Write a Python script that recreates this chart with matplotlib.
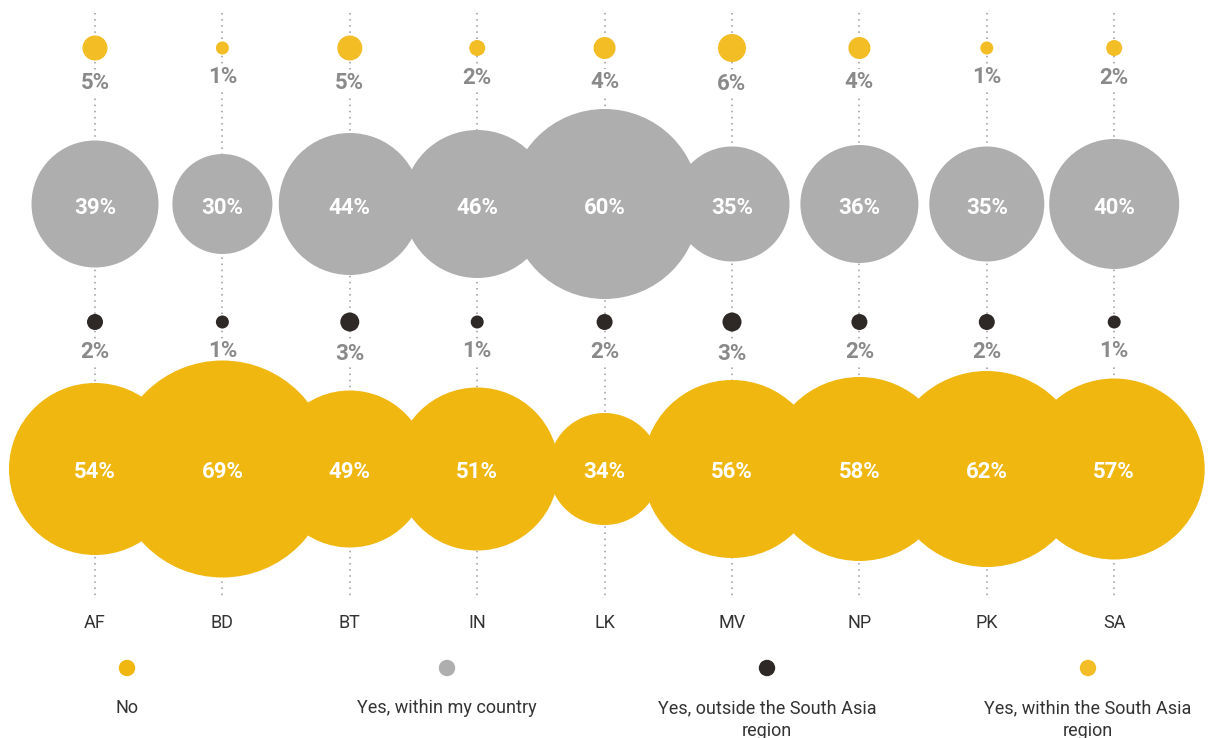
import matplotlib.pyplot as plt
from matplotlib.patches import Circle

# Share of respondents per country, by answer
countries = ['AF', 'BD', 'BT', 'IN', 'LK', 'MV', 'NP', 'PK', 'SA']
within_region = [5, 1, 5, 2, 4, 6, 4, 1, 2]
within_country = [39, 30, 44, 46, 60, 35, 36, 35, 40]
outside_region = [2, 1, 3, 1, 2, 3, 2, 2, 1]
no_answer = [54, 69, 49, 51, 34, 56, 58, 62, 57]

legend_labels = ['No', 'Yes, within my country',
                 'Yes, outside the South Asia\nregion',
                 'Yes, within the South Asia\nregion']

YELLOW = '#EFB70F'
LIGHT_YELLOW = '#F2BD25'
GREY = '#ADAEAD'
DARK = '#2E2926'
LABEL_GREY = '#8A8A8A'
TEXT = '#333333'

plt.rcParams['font.family'] = ['Roboto', 'DejaVu Sans']

fig = plt.figure(figsize=(12.09, 7.38), dpi=100)
ax = fig.add_axes([0, 0, 1, 1])
ax.set_xlim(0, 1209)
ax.set_ylim(738, 0)
ax.axis('off')

x0, dx = 95, 127.4
xs = [x0 + i * dx for i in range(len(countries))]


def radius(v):
    # diameter grows linearly with the percentage, with a small floor
    return (10 + 3.0 * v) / 2


# rows: values, y centre, colour, label inside circle?
rows = [
    (within_region, 48, LIGHT_YELLOW, False),
    (within_country, 204, GREY, True),
    (outside_region, 322, DARK, False),
    (no_answer, 469, YELLOW, True),
]

for x in xs:
    ax.plot([x, x], [13, 599], color='#9A9A9A', lw=1.1,
            linestyle=(0, (1, 3)), zorder=1)

for values, cy, color, inside in rows:
    for x, v in zip(xs, values):
        r = radius(v)
        ax.add_patch(Circle((x, cy), r, facecolor=color, edgecolor='none', zorder=2))
        if inside:
            ax.text(x, cy + 1, f'{v}%', color='white', fontsize=16, fontweight='bold',
                    ha='center', va='center_baseline', zorder=4)
        else:
            # white backing hides the dotted guide but stays under the circles
            ax.text(x, cy + r + 20, f'{v}%', color='white', fontsize=16,
                    fontweight='bold', ha='center', va='center_baseline', zorder=1.5,
                    bbox=dict(boxstyle='square,pad=0.05', fc='white', ec='none'))
            ax.text(x, cy + r + 20, f'{v}%', color=LABEL_GREY, fontsize=16,
                    fontweight='bold', ha='center', va='center_baseline', zorder=4)

for x, c in zip(xs, countries):
    ax.text(x, 621, c, color=TEXT, fontsize=13, ha='center', va='center_baseline')

# legend
legend_x = [127, 447, 767, 1088]
legend_colors = [YELLOW, GREY, DARK, LIGHT_YELLOW]
for x, c, lab in zip(legend_x, legend_colors, legend_labels):
    ax.add_patch(Circle((x, 668), 8.2, facecolor=c, edgecolor='none'))
    ax.text(x, 699, lab, color=TEXT, fontsize=13, ha='center', va='top',
            linespacing=1.35)

fig.savefig('out.png', dpi=100)
